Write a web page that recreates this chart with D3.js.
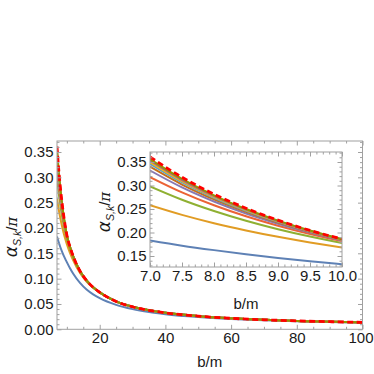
<!DOCTYPE html>
<html><head><meta charset="utf-8">
<script src="https://cdn.jsdelivr.net/npm/d3@7"></script>
<style>
html,body{margin:0;padding:0;background:#fff;}
svg{display:block;}
text{font-family:"Liberation Sans",Arial,sans-serif;fill:#1a1a1a;}
</style></head>
<body>
<svg id="chart" width="374" height="374"></svg>
<script>
// ---- data ----
const bValues = [7, 7.5, 8, 8.5, 9, 9.5, 10, 11, 12, 14, 16, 18, 20, 25, 30, 35, 40, 50, 60, 70, 80, 90, 100];

const alpha1  = [0.183, 0.172, 0.1625, 0.1538, 0.146, 0.139, 0.1325, 0.120, 0.109, 0.0915, 0.0785, 0.0690, 0.0615, 0.0482, 0.0398, 0.0340, 0.0298, 0.0241, 0.0203, 0.0177, 0.0157, 0.0143, 0.0131];
const alpha2  = [0.258, 0.2375, 0.2198, 0.2044, 0.1908, 0.1788, 0.1681, 0.150, 0.135, 0.111, 0.0943, 0.0818, 0.0723, 0.0547, 0.0443, 0.0374, 0.0324, 0.0259, 0.0216, 0.0187, 0.0165, 0.0149, 0.0136];
const alpha3  = [0.298, 0.2696, 0.2456, 0.2249, 0.2069, 0.1913, 0.1777, 0.157, 0.1404, 0.1139, 0.0958, 0.0826, 0.0727, 0.0549, 0.0444, 0.0375, 0.0325, 0.0260, 0.0217, 0.0188, 0.0166, 0.0150, 0.0137];
const alpha4  = [0.318, 0.2854, 0.2579, 0.2345, 0.2144, 0.1968, 0.1817, 0.1596, 0.1419, 0.1145, 0.0962, 0.0828, 0.0729, 0.0549, 0.0445, 0.0375, 0.0325, 0.0260, 0.0217, 0.0188, 0.0166, 0.0150, 0.0137];
const alpha5  = [0.332, 0.296, 0.266, 0.2405, 0.2188, 0.200, 0.1836, 0.161, 0.1425, 0.1148, 0.0963, 0.0829, 0.0729, 0.0550, 0.0445, 0.0375, 0.0325, 0.0260, 0.0217, 0.0188, 0.0166, 0.0150, 0.0137];
const alpha6  = [0.340, 0.3021, 0.2705, 0.2438, 0.2211, 0.2015, 0.1845, 0.1612, 0.1427, 0.1149, 0.0964, 0.0829, 0.0729, 0.0550, 0.0445, 0.0375, 0.0325, 0.0260, 0.0217, 0.0188, 0.0166, 0.0150, 0.0137];
const alpha7  = [0.346, 0.3066, 0.2737, 0.2461, 0.2226, 0.2024, 0.1850, 0.1615, 0.1428, 0.1149, 0.0964, 0.0829, 0.0730, 0.0550, 0.0445, 0.0375, 0.0325, 0.0260, 0.0217, 0.0188, 0.0166, 0.0150, 0.0137];
const alpha8  = [0.350, 0.3095, 0.2759, 0.2476, 0.2236, 0.2030, 0.1853, 0.1617, 0.1429, 0.1150, 0.0964, 0.0830, 0.0730, 0.0550, 0.0445, 0.0375, 0.0325, 0.0260, 0.0217, 0.0188, 0.0166, 0.0150, 0.0137];
const alpha9  = [0.353, 0.3117, 0.2775, 0.2488, 0.2244, 0.2036, 0.1856, 0.1618, 0.1429, 0.1150, 0.0965, 0.0830, 0.0730, 0.0550, 0.0445, 0.0375, 0.0325, 0.0260, 0.0217, 0.0188, 0.0166, 0.0150, 0.0137];
const alpha10 = [0.356, 0.3140, 0.2791, 0.2499, 0.2252, 0.2041, 0.1858, 0.1619, 0.1430, 0.1150, 0.0965, 0.0830, 0.0730, 0.0550, 0.0445, 0.0375, 0.0325, 0.0260, 0.0217, 0.0188, 0.0166, 0.0150, 0.0137];
const alphaLimit = [0.361, 0.3175, 0.2817, 0.2517, 0.2262, 0.2045, 0.1862, 0.162, 0.143, 0.115, 0.0965, 0.083, 0.073, 0.055, 0.0445, 0.0375, 0.0325, 0.026, 0.0217, 0.0188, 0.0166, 0.015, 0.0137];

const solidSeries = [alpha1, alpha2, alpha3, alpha4, alpha5, alpha6, alpha7, alpha8, alpha9, alpha10];
const seriesColors = ["#5E81B5", "#E19C24", "#8FB032", "#EB6235", "#8778B3", "#C56E1A", "#5D9EC7", "#FFBF00", "#A5609D", "#929600"];
const limitColor = "#FF0000";

const mainXTicks = [20, 40, 60, 80, 100];
const mainXMinor = [10, 15, 25, 30, 35, 45, 50, 55, 65, 70, 75, 85, 90, 95];
const mainYTicks = [0, 0.05, 0.10, 0.15, 0.20, 0.25, 0.30, 0.35];
const insetXTicks = [7, 7.5, 8, 8.5, 9, 9.5, 10];
const insetYTicks = [0.15, 0.20, 0.25, 0.30, 0.35];
const xLabel = "b/m";

// ---- layout ----
const svg = d3.select("#chart");
const frameColor = "#a0a0a0";
const main = {x0: 57, x1: 362.5, y0: 141, y1: 329.3};
const ins = {x0: 150, x1: 342, y0: 152, y1: 267};

const mx = d3.scaleLinear().domain([7, 100]).range([main.x0, main.x1]);
const my = d3.scaleLinear().domain([0, 0.3717]).range([main.y1, main.y0]);
const ix = d3.scaleLinear().domain([7, 10]).range([ins.x0, ins.x1]);
const iy = d3.scaleLinear().domain([0.1266, 0.3713]).range([ins.y1, ins.y0]);

function range(a, b, s) { const r = []; for (let v = a; v <= b + 1e-9; v += s) r.push(+v.toFixed(4)); return r; }
function minorsOf(all, majors) { return all.filter(v => !majors.some(m => Math.abs(m - v) < 1e-6)); }

function drawPanel(g, box, xs, ys, xMaj, xMin, yMaj, yMin, xFmt, yFmt, clipId, fs) {
  g.append("rect").attr("x", box.x0).attr("y", box.y0).attr("width", box.x1 - box.x0).attr("height", box.y1 - box.y0)
    .attr("fill", "#fff");
  g.append("clipPath").attr("id", clipId).append("rect")
    .attr("x", box.x0).attr("y", box.y0).attr("width", box.x1 - box.x0).attr("height", box.y1 - box.y0);
  const lines = g.append("g").attr("clip-path", `url(#${clipId})`);
  const line = d3.line().x((d, i) => xs(bValues[i])).y(d => ys(d)).curve(d3.curveMonotoneX);
  solidSeries.forEach((s, k) => {
    lines.append("path").attr("d", line(s)).attr("fill", "none")
      .attr("stroke", seriesColors[k]).attr("stroke-width", 2);
  });
  lines.append("path").attr("d", line(alphaLimit)).attr("fill", "none")
    .attr("stroke", limitColor).attr("stroke-width", 2.8).attr("stroke-dasharray", "6,3.5");

  const axes = [
    {ax: d3.axisBottom(xs), t: `translate(0,${box.y1})`, maj: xMaj, min: xMin, fmt: xFmt, labels: true},
    {ax: d3.axisTop(xs), t: `translate(0,${box.y0})`, maj: xMaj, min: xMin, fmt: xFmt, labels: false},
    {ax: d3.axisLeft(ys), t: `translate(${box.x0},0)`, maj: yMaj, min: yMin, fmt: yFmt, labels: true},
    {ax: d3.axisRight(ys), t: `translate(${box.x1},0)`, maj: yMaj, min: yMin, fmt: yFmt, labels: false}
  ];
  axes.forEach(a => {
    const gm = g.append("g").attr("transform", a.t)
      .call(a.ax.tickValues(a.min).tickSize(-2.5).tickFormat(""));
    gm.select(".domain").remove();
    gm.selectAll("line").attr("stroke", frameColor);
    const gM = g.append("g").attr("transform", a.t)
      .call(a.ax.tickValues(a.maj).tickSize(-4.5).tickPadding(3.5).tickFormat(a.labels ? a.fmt : ""));
    gM.select(".domain").remove();
    gM.selectAll("line").attr("stroke", frameColor);
    gM.selectAll("text").style("font-family", '"Liberation Sans",Arial,sans-serif')
      .style("font-size", fs + "px").attr("fill", "#1a1a1a");
  });
  g.append("rect").attr("x", box.x0).attr("y", box.y0).attr("width", box.x1 - box.x0).attr("height", box.y1 - box.y0)
    .attr("fill", "none").attr("stroke", frameColor).attr("stroke-width", 1);
}

const gMain = svg.append("g");
drawPanel(gMain, main, mx, my, mainXTicks, mainXMinor, mainYTicks, minorsOf(range(0.01, 0.37, 0.01), mainYTicks),
  d3.format("d"), d3.format(".2f"), "clipMain", 15);
const gIns = svg.append("g");
drawPanel(gIns, ins, ix, iy, insetXTicks, minorsOf(range(7.1, 9.9, 0.1), insetXTicks), insetYTicks,
  minorsOf(range(0.13, 0.37, 0.01), insetYTicks), d3.format(".1f"), d3.format(".2f"), "clipIns", 15);

// keep the last bottom tick label inside the window
gMain.selectAll("text").filter(function () { return this.textContent === "100"; })
  .attr("text-anchor", "end").attr("x", 373 - main.x1);

// axis labels
function yLabel(x, y) {
  const t = svg.append("text").attr("transform", `translate(${x},${y}) rotate(-90)`)
    .attr("text-anchor", "middle").style("font-size", "15px");
  t.append("tspan").text("α").style("font-family", '"DejaVu Sans",sans-serif').style("font-style", "italic").style("font-size", "17px");
  t.append("tspan").text("S,k").attr("dy", 4).style("font-size", "10.5px").style("font-style", "italic");
  t.append("tspan").text("/").attr("dy", -4);
  t.append("tspan").text("π").style("font-family", '"DejaVu Serif",serif').style("font-style", "italic");
}
svg.append("text").attr("x", (main.x0 + main.x1) / 2).attr("y", 367).attr("text-anchor", "middle")
  .style("font-size", "15px").text(xLabel);
svg.append("text").attr("x", (ins.x0 + ins.x1) / 2).attr("y", 309).attr("text-anchor", "middle")
  .style("font-size", "15px").text(xLabel);
yLabel(17, 237);
yLabel(110, 212);
</script>
</body></html>
